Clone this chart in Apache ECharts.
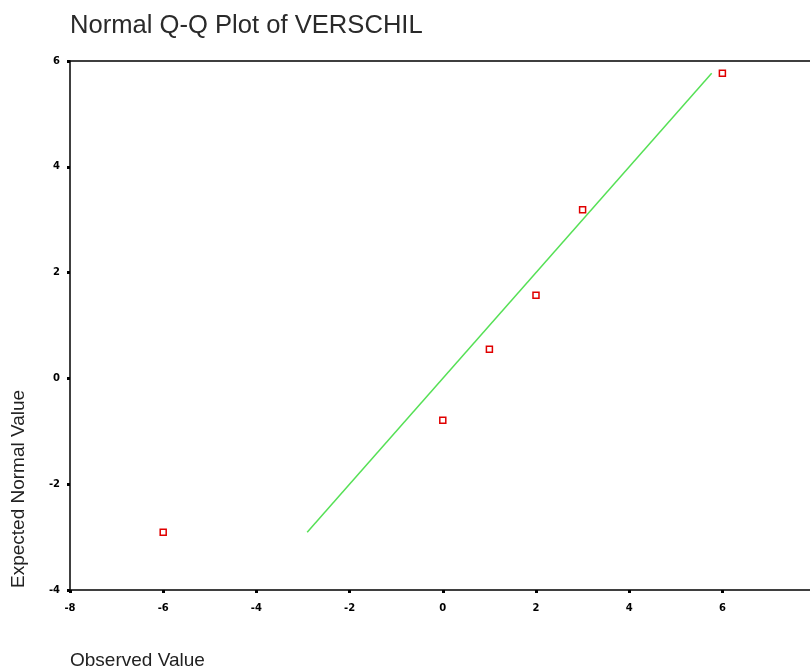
<!DOCTYPE html>
<html>
<head>
<meta charset="utf-8">
<script src="https://cdn.jsdelivr.net/npm/echarts@6/dist/echarts.min.js"></script>
<style>html,body{margin:0;padding:0;background:#fff}#c{width:810px;height:670px}</style>
</head>
<body>
<div id="c"></div>
<script>
const titleText = "Normal Q-Q Plot of VERSCHIL";
const xName = "Observed Value";
const yName = "Expected Normal Value";
const observed = [-6, 0, 1, 2, 3, 6];
const expected = [-2.91, -0.79, 0.55, 1.57, 3.19, 5.77];
const xTicks = [-8, -6, -4, -2, 0, 2, 4, 6];
const yTicks = [-4, -2, 0, 2, 4, 6];

const points = observed.map((v, i) => [v, expected[i]]);
const lo = Math.min(...expected), hi = Math.max(...expected);
const refLine = [[lo, lo], [hi, hi]];

const chart = echarts.init(document.getElementById('c'));
const tickFont = { fontFamily: 'DejaVu Sans', fontSize: 10, fontWeight: 'bold', color: '#000' };
chart.setOption({
  animation: false,
  backgroundColor: '#fff',
  title: {
    text: titleText, left: 65, top: 8,
    textStyle: { fontFamily: 'Liberation Sans', fontSize: 25.6, fontWeight: 'normal', color: '#2a2a2a' }
  },
  grid: { left: 70, top: 61, right: 0, bottom: 80 },
  xAxis: [{
    type: 'value', min: -8, max: 7.88, interval: 2,
    axisLine: { show: true, onZero: false, lineStyle: { color: '#000', width: 1.5 } },
    axisTick: { show: true, length: 3, lineStyle: { color: '#000', width: 3 } },
    axisLabel: Object.assign({ margin: 13, showMaxLabel: false, formatter: v => xTicks.includes(v) ? String(v) : '' }, tickFont),
    splitLine: { show: false }
  }, {
    type: 'value', position: 'top', min: -8, max: 7.88,
    axisLine: { show: true, onZero: false, lineStyle: { color: '#000', width: 1.5 } },
    axisTick: { show: false }, axisLabel: { show: false }, splitLine: { show: false }
  }],
  yAxis: {
    type: 'value', min: -4, max: 6, interval: 2,
    axisLine: { show: true, onZero: false, lineStyle: { color: '#000', width: 1.5 } },
    axisTick: { show: true, length: 3, lineStyle: { color: '#000', width: 3 } },
    axisLabel: Object.assign({ margin: 10, formatter: v => yTicks.includes(v) ? String(v) : '' }, tickFont),
    splitLine: { show: false }
  },
  graphic: [
    { type: 'text', left: 70, top: 651, style: { text: xName, font: '19px "Liberation Sans"', fill: '#222' } },
    { type: 'text', x: 9, y: 588, rotation: Math.PI / 2, style: { text: yName, font: '19px "Liberation Sans"', fill: '#222', textVerticalAlign: 'top' } }
  ],
  series: [
    {
      type: 'line', data: refLine, symbol: 'none', silent: true,
      lineStyle: { color: '#55e055', width: 1.5 }, z: 2
    },
    {
      type: 'scatter', data: points, symbol: 'rect', symbolSize: 6,
      itemStyle: { color: '#fff', borderColor: '#e00000', borderWidth: 1.5, opacity: 1 }, z: 3
    }
  ]
});
</script>
</body>
</html>
